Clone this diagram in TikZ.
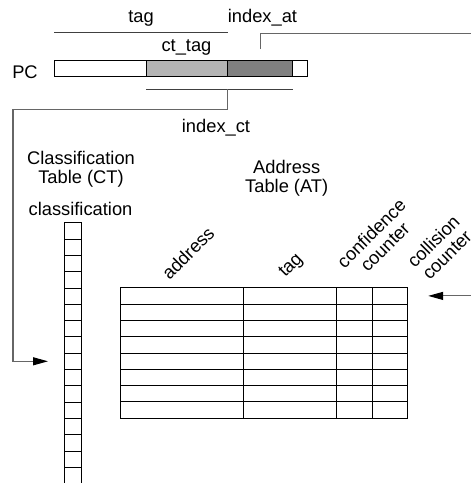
\documentclass[tikz,border=0pt]{standalone}
\usepackage{fontspec}
\setmainfont{Liberation Sans}
\usetikzlibrary{arrows.meta,calc}

\definecolor{ctfield}{RGB}{180,180,180}
\definecolor{atfield}{RGB}{128,128,128}

\begin{document}
\begin{tikzpicture}[x=1pt,y=-1pt,
  lbl/.style={font=\fontsize{18.3}{19}\selectfont, inner sep=0pt},
  field/.style={draw=black, line width=0.8pt, minimum height=16.5pt, inner sep=0pt, anchor=north west},
  cell/.style={draw=black, line width=0.9pt, minimum height=16.3pt, inner sep=0pt, anchor=north west},
  bar/.style={draw=black!75, line width=0.8pt},
  link/.style={draw=black!60, line width=1.1pt},
  tip/.style={-{Triangle[length=15pt,width=8pt,color=black]}}]
\clip (0,0) rectangle (471,483);

% program counter and its fields
\node[lbl, anchor=base] (pclbl) at (25,78) {PC};
\node[field, minimum width=92pt] (pclo) at (54,59.5) {};
\node[field, fill=ctfield, minimum width=81.3pt] (pcct) at (146,59.5) {};
\node[field, fill=atfield, minimum width=65pt] (pcat) at (227.3,59.5) {};
\node[field, minimum width=15pt] (pchi) at (292.3,59.5) {};

% field labels
\node[lbl, anchor=base] (tag) at (141,22) {tag};
\node[lbl, anchor=base] (idxat) at (262.5,22) {index\_at};
\node[lbl, anchor=base] (cttag) at (186.5,51.7) {ct\_tag};
\node[lbl, anchor=base] (idxct) at (216,132.7) {index\_ct};

% brackets over and under the fields
\draw[bar] ($(pclo.north west)+(0,-27.5)$) -- ($(pcct.north east)+(0,-27.5)$);
\draw[bar] ($(pcct.south west)+(0,12.3)$) -- ($(pcat.south east)+(0,12.3)$);

% classification table
\node[lbl, anchor=base] (cttitle) at (81,164) {Classification};
\node[lbl, anchor=base] (cttitleb) at (81,183) {Table (CT)};
\node[lbl, anchor=base] (ctcol) at (80.5,215) {classification};
\foreach \i in {0,...,15}
  \node[cell, minimum width=17pt] (ct\i) at (64,{222.3+16.3*\i}) {};

% address table
\node[lbl, anchor=base] (attitle) at (286.7,173.5) {Address};
\node[lbl, anchor=base] (attitleb) at (286.7,192) {Table (AT)};
\foreach \i in {0,...,7} {
  \node[cell, minimum width=122.4pt] (ata\i) at (120.3,{287.3+16.3*\i}) {};
  \node[cell, minimum width=93.6pt] (atb\i) at (242.7,{287.3+16.3*\i}) {};
  \node[cell, minimum width=35.7pt] (atc\i) at (336.3,{287.3+16.3*\i}) {};
  \node[cell, minimum width=35.3pt] (atd\i) at (372,{287.3+16.3*\i}) {};
}
\node[lbl, rotate=45] (hdaddr) at (188,253) {address};
\node[lbl, rotate=45] (hdtag) at (291.5,266) {tag};
\node[lbl, rotate=45, align=center] (hdconf) at (378,240) {confidence\\counter};
\node[lbl, rotate=45, align=center] (hdcoll) at (440,248) {collision\\counter};

% index paths
\coordinate (feed) at (480,33.3);
\draw[link, tip, shorten >=20pt] ($(pcat.north)+(0,-10.5)$) |- (feed) |- (atd0.east);
\draw[link, tip, shorten >=16pt] ($(pcat.south west)+(0,12.3)$) -- ++(0,20) -- ++(-214.3,0) |- (ct8.west);
\end{tikzpicture}
\end{document}
